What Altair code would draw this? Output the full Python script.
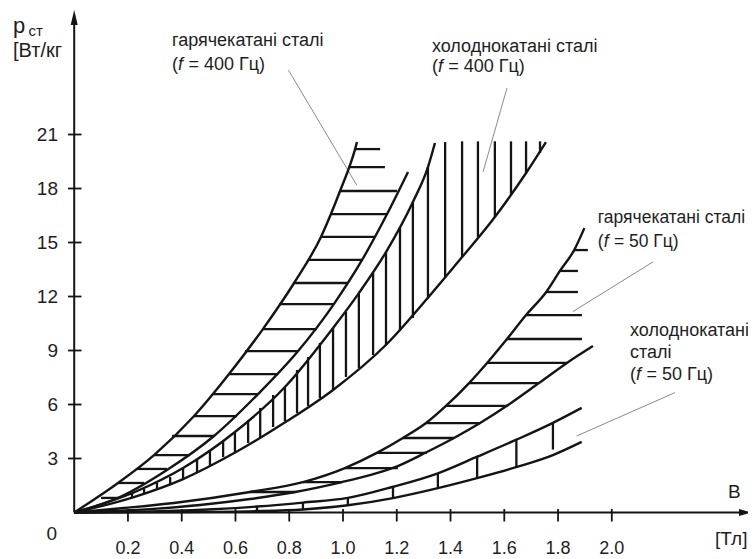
import altair as alt
import pandas as pd

# ---------------- data (B in T, p in W/kg) ----------------
hot400_upper_B = [0, 0.163, 0.297, 0.446, 0.576, 0.702, 0.818, 0.918, 0.989, 1.045, 1.052]
hot400_upper_p = [0, 1.64, 3.19, 5.36, 7.69, 10.19, 12.75, 15.31, 17.86, 20.19, 20.58]

hot400_lower_B = [0, 0.170, 0.345, 0.520, 0.684, 0.833, 0.966, 1.071, 1.164, 1.242]
hot400_lower_p = [0, 0.86, 2.36, 4.25, 6.58, 8.97, 11.58, 14.03, 16.58, 18.92]

cold400_upper_B = [0, 0.226, 0.405, 0.598, 0.784, 0.963, 1.059, 1.160, 1.260, 1.316, 1.342]
cold400_upper_p = [0, 1.14, 2.47, 4.47, 6.97, 10.25, 12.19, 14.47, 17.25, 19.19, 20.53]

cold400_lower_B = [0, 0.222, 0.405, 0.602, 0.792, 0.963, 1.163, 1.312, 1.443, 1.565, 1.681, 1.755]
cold400_lower_p = [0, 0.86, 1.86, 3.36, 5.08, 6.81, 9.36, 11.86, 14.19, 16.42, 18.86, 20.58]

hot50_upper_B = [0, 0.185, 0.371, 0.654, 0.851, 1.007, 1.126, 1.223, 1.309, 1.383, 1.469,
                 1.536, 1.610, 1.681, 1.756, 1.807, 1.860, 1.898]
hot50_upper_p = [0, 0.25, 0.53, 1.14, 1.69, 2.47, 3.31, 4.14, 4.97, 5.92, 7.19,
                 8.31, 9.64, 10.97, 12.25, 13.42, 14.58, 15.80]

hot50_lower_B = [0, 0.282, 0.468, 0.654, 0.822, 0.996, 1.100, 1.204, 1.312, 1.413, 1.510,
                 1.614, 1.729, 1.833, 1.930]
hot50_lower_p = [0, 0.19, 0.42, 0.75, 1.14, 1.69, 2.08, 2.58, 3.36, 4.14, 4.97,
                 5.97, 7.19, 8.31, 9.25]

cold50_upper_B = [0, 0.35, 0.680, 0.851, 1.018, 1.186, 1.353, 1.499, 1.643, 1.781, 1.888]
cold50_upper_p = [0, 0.08, 0.33, 0.55, 0.81, 1.43, 2.18, 3.10, 4.03, 4.98, 5.81]

cold50_lower_B = [0, 0.35, 0.680, 0.851, 1.018, 1.186, 1.353, 1.502, 1.647, 1.781, 1.888]
cold50_lower_p = [0, 0.02, 0.08, 0.17, 0.40, 0.80, 1.35, 1.92, 2.53, 3.19, 3.92]

# horizontal hatching, hot-rolled 400 Hz band
hatchA_p = [20.19, 19.19, 17.86, 16.58, 15.31, 14.03, 12.75, 11.58, 10.19, 8.97, 7.69,
            6.58, 5.36, 4.25, 3.19, 2.42, 1.64, 0.81]
hatchA_B1 = [1.045, 1.022, 0.989, 0.955, 0.918, 0.873, 0.818, 0.762, 0.702, 0.635, 0.576,
             0.516, 0.446, 0.364, 0.297, 0.234, 0.163, 0.100]
hatchA_B2 = [1.138, 1.156, 1.201, 1.164, 1.119, 1.071, 1.018, 0.966, 0.903, 0.833, 0.758,
             0.684, 0.606, 0.520, 0.431, 0.345, 0.260, 0.170]

# vertical hatching, cold-rolled 400 Hz band
hatchB_B = [1.733, 1.681, 1.625, 1.565, 1.502, 1.443, 1.380, 1.316, 1.260, 1.212, 1.160,
            1.112, 1.059, 1.011, 0.963, 0.914, 0.870, 0.829, 0.784, 0.740, 0.692, 0.647,
            0.598, 0.554, 0.505, 0.457, 0.405, 0.357, 0.308, 0.260, 0.215]
hatchB_p1 = [20.62, 20.62, 20.62, 20.62, 20.62, 20.62, 20.58, 19.19, 17.25, 15.86, 14.47,
             13.31, 12.19, 11.14, 10.25, 9.42, 8.64, 7.92, 6.97, 6.53, 5.81, 5.14,
             4.47, 4.03, 3.47, 2.92, 2.47, 1.97, 1.64, 1.31, 1.08]
hatchB_p2 = [19.97, 18.86, 17.69, 16.42, 15.31, 14.19, 13.03, 11.86, 10.81, 10.08, 9.31,
             8.75, 8.03, 7.53, 6.81, 6.36, 5.92, 5.53, 5.08, 4.75, 4.19, 3.86,
             3.36, 3.08, 2.58, 2.25, 1.86, 1.53, 1.31, 1.03, 0.84]

# horizontal hatching, hot-rolled 50 Hz band
hatchC_p = [14.58, 13.42, 12.25, 10.97, 9.64, 8.31, 7.19, 5.92, 4.97, 4.14, 3.31, 2.47, 1.69, 1.14]
hatchC_B1 = [1.860, 1.807, 1.756, 1.681, 1.610, 1.536, 1.469, 1.383, 1.309, 1.223, 1.126,
             1.007, 0.851, 0.654]
hatchC_B2 = [1.911, 1.874, 1.874, 1.889, 1.889, 1.833, 1.729, 1.614, 1.510, 1.413, 1.312,
             1.204, 0.996, 0.822]

# vertical hatching, cold-rolled 50 Hz band
hatchD_B = [0.680, 0.851, 1.018, 1.186, 1.353, 1.499, 1.645, 1.781]
hatchD_p1 = [0.33, 0.55, 0.81, 1.43, 2.18, 3.10, 4.03, 4.98]
hatchD_p2 = [0.07, 0.16, 0.40, 0.80, 1.35, 1.92, 2.53, 3.50]

# thin leader lines from labels to bands
leader_B1 = [0.797, 1.610, 2.154, 2.235]
leader_p1 = [24.58, 23.58, 13.93, 6.66]
leader_B2 = [1.051, 1.521, 1.855, 1.869]
leader_p2 = [18.19, 18.92, 11.16, 4.25]

# axes
x_ticks = [0.2, 0.4, 0.6, 0.8, 1.0, 1.2, 1.4, 1.6, 1.8, 2.0]
x_tick_labels = ["0.2", "0.4", "0.6", "0.8", "1.0", "1.2", "1.4", "1.6", "1.8", "2.0"]
y_ticks = [3, 6, 9, 12, 15, 18, 21]
y_tick_labels = ["3", "6", "9", "12", "15", "18", "21"]
x_axis_end = 2.48
y_axis_end = 27.4

# annotation texts (text, B, p, fontsize, italic)
ann_text = ["p", "ст", "[Вт/кг", "B", "[Тл]",
            "гарячекатані сталі", "(", "f", "= 400 Гц)",
            "холоднокатані сталі", "(", "f", "= 400 Гц)",
            "гарячекатані сталі", "(", "f", "= 50 Гц)",
            "холоднокатані", "сталі", "(", "f", "= 50 Гц)"]
ann_B = [-0.2277, -0.1700, -0.2277, 2.432, 2.384,
         0.3638, 0.3638, 0.3862, 0.4252,
         1.3307, 1.3307, 1.3530, 1.3914,
         1.9480, 1.9480, 1.9700, 2.0080,
         2.0677, 2.0677, 2.0677, 2.0900, 2.1291]
ann_p = [26.64, 26.50, 25.31, 0.81, -1.81,
         25.89, 24.61, 24.61, 24.61,
         25.61, 24.47, 24.47, 24.47,
         16.06, 14.75, 14.75, 14.75,
         9.78, 8.58, 7.36, 7.36, 7.36]
ann_size = [22, 15, 20, 19, 19] + [18] * 8 + [17.5] * 4 + [18] * 5
ann_italic = [False] * 5 + [False, False, True, False] * 3 + [False, False, False, True, False]

# ---------------- build tables ----------------
curves = {
    "hot400_upper": (hot400_upper_B, hot400_upper_p),
    "hot400_lower": (hot400_lower_B, hot400_lower_p),
    "cold400_upper": (cold400_upper_B, cold400_upper_p),
    "cold400_lower": (cold400_lower_B, cold400_lower_p),
    "hot50_upper": (hot50_upper_B, hot50_upper_p),
    "hot50_lower": (hot50_lower_B, hot50_lower_p),
    "cold50_upper": (cold50_upper_B, cold50_upper_p),
    "cold50_lower": (cold50_lower_B, cold50_lower_p),
}
rows = []
for name, (bs, ps) in curves.items():
    for i, (b, p) in enumerate(zip(bs, ps)):
        rows.append({"curve": name, "B": b, "p": p, "i": i})
curve_df = pd.DataFrame(rows)

seg = []
for p, b1, b2 in zip(hatchA_p, hatchA_B1, hatchA_B2):
    seg.append({"B": b1, "B2": b2, "p": p, "p2": p})
for b, p1, p2 in zip(hatchB_B, hatchB_p1, hatchB_p2):
    seg.append({"B": b, "B2": b, "p": p1, "p2": p2})
for p, b1, b2 in zip(hatchC_p, hatchC_B1, hatchC_B2):
    seg.append({"B": b1, "B2": b2, "p": p, "p2": p})
for b, p1, p2 in zip(hatchD_B, hatchD_p1, hatchD_p2):
    seg.append({"B": b, "B2": b, "p": p1, "p2": p2})
hatch_df = pd.DataFrame(seg)

leader_df = pd.DataFrame({"B": leader_B1, "p": leader_p1, "B2": leader_B2, "p2": leader_p2})
axis_df = pd.DataFrame({"B": [0, 0], "B2": [x_axis_end, 0], "p": [0, 0], "p2": [0, y_axis_end]})
xt_df = pd.DataFrame({"B": x_ticks, "label": x_tick_labels})
yt_df = pd.DataFrame({"p": y_ticks, "label": y_tick_labels})
ann_df = pd.DataFrame({"text": ann_text, "B": ann_B, "p": ann_p, "size": ann_size, "italic": ann_italic})

# ---------------- chart ----------------
xs = alt.Scale(domain=[-0.2463, 2.5067], nice=False, zero=False)
ys = alt.Scale(domain=[-2.583, 28.028], nice=False, zero=False)
INK = "#141414"
TXT = "#1e1e1e"
FONT = "Liberation Sans"


def qx(f):
    return alt.X(f, type="quantitative", scale=xs, axis=None)


def qy(f):
    return alt.Y(f, type="quantitative", scale=ys, axis=None)


lines = alt.Chart(curve_df).mark_line(color=INK, strokeWidth=2.4, interpolate="monotone").encode(
    x=qx("B"), y=qy("p"), detail="curve:N", order="i:Q")

hatch = alt.Chart(hatch_df).mark_rule(color=INK, strokeWidth=2.3).encode(
    x=qx("B"), x2="B2:Q", y=qy("p"), y2="p2:Q")

leaders = alt.Chart(leader_df).mark_rule(color="#8a8a8a", strokeWidth=1).encode(
    x=qx("B"), x2="B2:Q", y=qy("p"), y2="p2:Q")

axes = alt.Chart(axis_df).mark_rule(color=INK, strokeWidth=2).encode(
    x=qx("B"), x2="B2:Q", y=qy("p"), y2="p2:Q")

xticks = alt.Chart(xt_df).mark_rule(color=INK, strokeWidth=1.8).encode(
    x=qx("B"), y=alt.value(501), y2=alt.value(513.5))
yticks = alt.Chart(yt_df).mark_rule(color=INK, strokeWidth=1.8).encode(
    y=qy("p"), x=alt.value(60), x2=alt.value(73.5))

xlabels = alt.Chart(xt_df).mark_text(font=FONT, fontSize=18, color=TXT, align="center",
                                     baseline="middle").encode(
    x=qx("B"), y=alt.value(541), text="label:N")
ylabels = alt.Chart(yt_df).mark_text(font=FONT, fontSize=19, color=TXT, align="right",
                                     baseline="middle").encode(
    y=qy("p"), x=alt.value(50), text="label:N")
zero_label = alt.Chart(pd.DataFrame({"label": ["0"]})).mark_text(
    font=FONT, fontSize=19, color=TXT, align="right", baseline="middle").encode(
    x=alt.value(49), y=alt.value(526), text="label:N")

y_arrow = alt.Chart(pd.DataFrame({"B": [0], "p": [27.5]})).mark_point(
    shape="M0,-1L0.47,1L-0.47,1Z", filled=True, color=INK, opacity=1, size=225).encode(
    x=qx("B"), y=qy("p"))
x_arrow = alt.Chart(pd.DataFrame({"B": [2.4955], "p": [0]})).mark_point(
    shape="M1,0L-1,-0.6L-1,0.6Z", filled=True, color=INK, opacity=1, size=144).encode(
    x=qx("B"), y=qy("p"))

ann_regular = alt.Chart(ann_df[~ann_df["italic"]]).mark_text(
    font=FONT, color=TXT, align="left", baseline="alphabetic").encode(
    x=qx("B"), y=qy("p"), text="text:N", size=alt.Size("size:Q", scale=None))
ann_italic = alt.Chart(ann_df[ann_df["italic"]]).mark_text(
    font=FONT, color=TXT, align="left", baseline="alphabetic", fontStyle="italic").encode(
    x=qx("B"), y=qy("p"), text="text:N", size=alt.Size("size:Q", scale=None))

chart = alt.layer(
    leaders, lines, hatch, axes, xticks, yticks, y_arrow, x_arrow,
    xlabels, ylabels, zero_label, ann_regular, ann_italic
).properties(
    width=740, height=551, padding=0,
    autosize=alt.AutoSizeParams(type="none")
).configure_view(stroke=None)

chart.save("out.html", embed_options={"renderer": "svg", "actions": False})
